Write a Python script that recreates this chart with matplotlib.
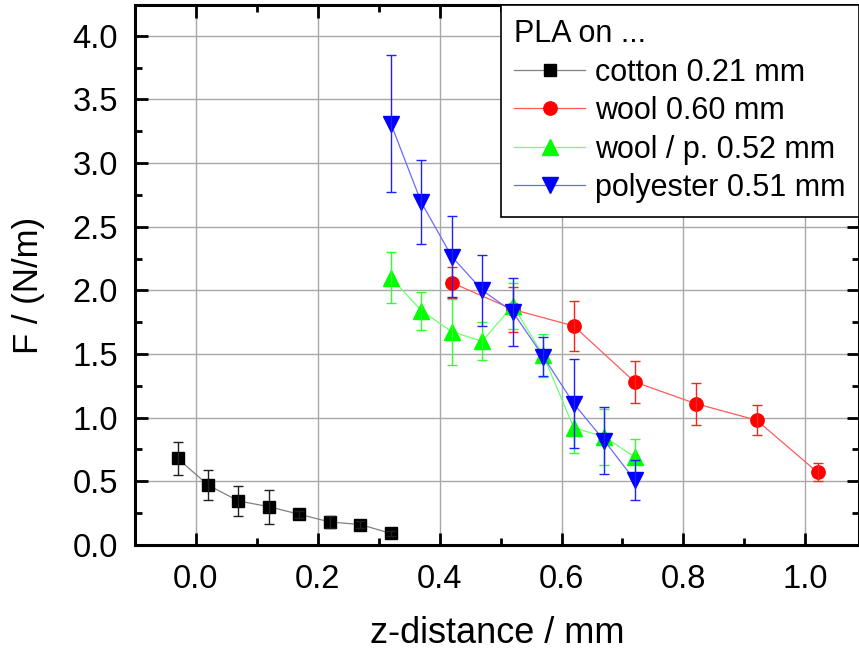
import numpy as np
import matplotlib
matplotlib.use("Agg")
import matplotlib.pyplot as plt
from matplotlib.ticker import MultipleLocator, FormatStrFormatter

plt.rcParams['font.family'] = ['Liberation Sans', 'DejaVu Sans']

# cotton 0.21 mm
x_cotton = [-0.03, 0.02, 0.07, 0.12, 0.17, 0.22, 0.27, 0.32]
f_cotton = [0.68, 0.47, 0.345, 0.30, 0.24, 0.18, 0.16, 0.09]
e_cotton = [0.13, 0.12, 0.12, 0.135, 0.03, 0.05, 0.03, 0.02]

# wool 0.60 mm
x_wool = [0.42, 0.52, 0.62, 0.72, 0.82, 0.92, 1.02]
f_wool = [2.06, 1.85, 1.72, 1.28, 1.11, 0.98, 0.57]
e_wool = [0.12, 0.18, 0.20, 0.165, 0.165, 0.12, 0.07]

# wool / p. 0.52 mm
x_woolp = [0.32, 0.37, 0.42, 0.47, 0.52, 0.57, 0.62, 0.67, 0.72]
f_woolp = [2.10, 1.84, 1.675, 1.60, 1.88, 1.49, 0.92, 0.85, 0.69]
e_woolp = [0.20, 0.15, 0.26, 0.15, 0.18, 0.17, 0.20, 0.22, 0.14]

# polyester 0.51 mm
x_poly = [0.32, 0.37, 0.42, 0.47, 0.52, 0.57, 0.62, 0.67, 0.72]
f_poly = [3.31, 2.69, 2.265, 2.00, 1.83, 1.48, 1.11, 0.82, 0.51]
e_poly = [0.54, 0.33, 0.32, 0.28, 0.27, 0.15, 0.35, 0.26, 0.16]

labels = ['cotton 0.21 mm', 'wool 0.60 mm', 'wool / p. 0.52 mm', 'polyester 0.51 mm']

fig = plt.figure(figsize=(8.59, 6.51), dpi=100)
ax = fig.add_axes([0.157, 0.163, 0.843, 0.829])

series = [
    # x, y, err, marker, size, marker colour, line colour, err colour
    (x_cotton, f_cotton, e_cotton, 's', 8.5, 'black', '#808080', '#202020'),
    (x_wool, f_wool, e_wool, 'o', 9.6, '#ff0000', '#ff5a5a', '#ff2020'),
    (x_woolp, f_woolp, e_woolp, '^', 11, '#00ff00', '#70ff70', '#30ff30'),
    (x_poly, f_poly, e_poly, 'v', 11, '#0000ff', '#6a6aff', '#2020ff'),
]

handles = []
for i, (x, y, e, m, ms, mc, lc, ec) in enumerate(series):
    z = 3 + i
    h, = ax.plot(x, y, color=lc, lw=0.9, marker=m, ms=ms,
                 mfc=mc, mec=mc, zorder=z, label=labels[i])
    ax.errorbar(x, y, yerr=e, fmt='none', ecolor=ec, elinewidth=1.0,
                capsize=3.8, capthick=1.0, zorder=z + 0.5)
    handles.append(h)

ax.set_xlim(-0.1, 1.088)
ax.set_ylim(0, 4.24)
ax.xaxis.set_major_locator(MultipleLocator(0.2))
ax.xaxis.set_minor_locator(MultipleLocator(0.1))
ax.yaxis.set_major_locator(MultipleLocator(0.5))
ax.yaxis.set_minor_locator(MultipleLocator(0.25))
ax.xaxis.set_major_formatter(FormatStrFormatter('%.1f'))
ax.yaxis.set_major_formatter(FormatStrFormatter('%.1f'))

ax.grid(True, which='major', color='#a8a8a8', lw=1.0, zorder=0)
ax.set_axisbelow(True)

ax.tick_params(which='both', direction='in', top=True, right=True,
               width=2.0, color='black')
ax.tick_params(which='major', length=9)
ax.tick_params(which='minor', length=5)
ax.tick_params(axis='x', which='major', labelsize=23.5, pad=14)
ax.tick_params(axis='y', which='major', labelsize=23.5, pad=12)

for s in ax.spines.values():
    s.set_linewidth(2.2)

ax.set_xlabel('z-distance / mm', fontsize=26)
ax.set_ylabel('F / (N/m)', fontsize=25)
ax.xaxis.set_label_coords(0.50, -0.132)
ax.yaxis.set_label_coords(-0.124, 0.48)

leg = ax.legend(handles=handles, title='PLA on ...', loc='upper right',
                bbox_to_anchor=(1.0, 1.0), borderaxespad=0, fontsize=22,
                title_fontsize=22, handlelength=2.3, handletextpad=0.33,
                labelspacing=0.28, borderpad=0.45, fancybox=False,
                framealpha=1, edgecolor='black', alignment='left')
leg.get_frame().set_linewidth(1.2)
leg.set_zorder(20)

fig.savefig('out.png', dpi=100)
